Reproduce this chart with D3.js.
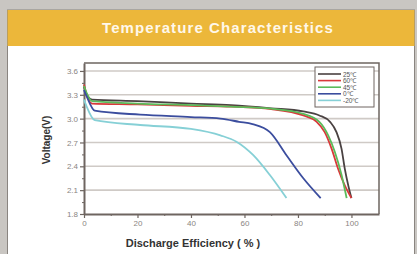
<!DOCTYPE html>
<html lang="en">
<head>
<meta charset="UTF-8">
<title>Temperature Characteristics</title>
<script src="https://d3js.org/d3.v7.min.js"></script>
<style>
  html, body { margin: 0; padding: 0; background: #c9c6c2; }
  svg { display: block; }
</style>
</head>
<body>
<svg id="chart" width="417" height="254"></svg>
<script>
// data: [discharge %, voltage]
const series = ["25℃", "60℃", "45℃", "0℃", "-20℃"];
const colors = ["#4a4242", "#d9393a", "#5bbb5a", "#3b4d9e", "#86d0d6"];
const curve25 = [[0,3.40],[1,3.30],[3,3.24],[20,3.22],[40,3.19],[55,3.17],[70,3.13],[82,3.09],[88,3.04],[92,2.96],[94.4,2.83],[96.3,2.62],[97.5,2.37],[98.8,2.16],[100,2.0]];
const curve60 = [[0,3.43],[1,3.30],[3,3.19],[20,3.18],[40,3.16],[55,3.15],[70,3.12],[82,3.04],[87,2.96],[90,2.83],[92.6,2.62],[95,2.37],[97.5,2.16],[100,2.0]];
const curve45 = [[0,3.41],[1,3.32],[3,3.22],[20,3.19],[40,3.17],[55,3.15],[70,3.125],[82,3.06],[88,2.96],[91.3,2.79],[93.8,2.58],[96.3,2.29],[98.2,2.0]];
const curve0 = [[0,3.36],[1,3.28],[4,3.10],[21,3.05],[40,3.02],[51,3.0],[58,2.96],[63,2.93],[69.5,2.83],[75.7,2.54],[82,2.25],[88.5,2.0]];
const curveM20 = [[0,3.24],[1,3.15],[4,2.98],[21,2.92],[40,2.87],[51,2.79],[57,2.71],[63.3,2.54],[69.5,2.29],[75.7,2.0]];
const curves = [curve25, curve60, curve45, curve0, curveM20];
const xTicks = [0, 20, 40, 60, 80, 100];
const yTicks = [1.8, 2.1, 2.4, 2.7, 3.0, 3.3, 3.6];

const svg = d3.select("#chart");

// card
svg.append("rect").attr("x", 7.5).attr("y", 10).attr("width", 407).attr("height", 260)
  .attr("fill", "#fff").attr("stroke", "#8a8580").attr("stroke-width", 1);
svg.append("rect").attr("x", 7.5).attr("y", 10).attr("width", 407).attr("height", 36)
  .attr("fill", "#ecb73a");
svg.append("text").attr("x", 218).attr("y", 33).attr("text-anchor", "middle")
  .attr("font-family", "Liberation Sans, Arial, sans-serif").attr("font-weight", "bold")
  .attr("font-size", 15).attr("letter-spacing", 1.1).attr("fill", "#fff8ea")
  .text("Temperature Characteristics");

const x = d3.scaleLinear().domain([0, 110.3]).range([84, 379]);
const y = d3.scaleLinear().domain([1.8, 3.7]).range([214, 63]);

// grid
svg.append("g").selectAll("line").data(yTicks.filter(d => d > 1.8)).join("line")
  .attr("x1", x(0)).attr("x2", x(110.3))
  .attr("y1", d => y(d)).attr("y2", d => y(d))
  .attr("stroke", "#cfcac6").attr("stroke-width", 1.6);

// minor ticks
svg.append("g").attr("transform", `translate(0,${y(1.8)})`)
  .call(d3.axisBottom(x).tickValues(d3.range(10, 110, 20)).tickSize(2).tickFormat(""))
  .call(g => g.select(".domain").remove())
  .call(g => g.selectAll("line").attr("stroke", "#6e6560"));
svg.append("g").attr("transform", `translate(${x(0)},0)`)
  .call(d3.axisLeft(y).tickValues(d3.range(1.95, 3.7, 0.3)).tickSize(2).tickFormat(""))
  .call(g => g.select(".domain").remove())
  .call(g => g.selectAll("line").attr("stroke", "#6e6560"));

// axes
const xAxis = svg.append("g").attr("transform", `translate(0,${y(1.8)})`)
  .call(d3.axisBottom(x).tickValues(xTicks).tickSize(4).tickSizeOuter(0).tickPadding(2));
const yAxis = svg.append("g").attr("transform", `translate(${x(0)},0)`)
  .call(d3.axisLeft(y).tickValues(yTicks).tickSize(4).tickSizeOuter(0).tickPadding(2)
    .tickFormat(d3.format(".1f")));
[xAxis, yAxis].forEach(g => {
  g.select(".domain").attr("stroke", "#6e6560").attr("stroke-width", 2);
  g.selectAll(".tick line").attr("stroke", "#6e6560").attr("stroke-width", 1.2);
  g.selectAll(".tick text").attr("fill", "#8a8582")
    .attr("font-family", "Liberation Sans, Arial, sans-serif").attr("font-size", 8);
});

// frame top & right
svg.append("path")
  .attr("d", `M${x(0)},${y(3.7)}H${x(110.3)}V${y(1.8)}`)
  .attr("fill", "none").attr("stroke", "#6e6560").attr("stroke-width", 1.5);

// lines
const line = d3.line().x(d => x(d[0])).y(d => y(d[1])).curve(d3.curveMonotoneX);
svg.append("g").selectAll("path").data(curves).join("path")
  .attr("d", line).attr("fill", "none")
  .attr("stroke", (d, i) => colors[i]).attr("stroke-width", 1.8);

// legend
const lg = svg.append("g");
lg.append("rect").attr("x", 315).attr("y", 67).attr("width", 59).attr("height", 40)
  .attr("fill", "#fff").attr("stroke", "#6e6560").attr("stroke-width", 1);
const rows = lg.selectAll("g").data(series).join("g")
  .attr("transform", (d, i) => `translate(0,${74 + i * 6.6})`);
rows.append("line").attr("x1", 318).attr("x2", 341)
  .attr("stroke", (d, i) => colors[i]).attr("stroke-width", 1.6);
rows.append("text").attr("x", 343).attr("y", 2.5).text(d => d)
  .attr("font-family", "Liberation Sans, Arial, sans-serif").attr("font-size", 6.5)
  .attr("fill", "#555");

// axis titles
svg.append("text").attr("transform", "translate(50,140) rotate(-90)")
  .attr("text-anchor", "middle").attr("font-family", "Liberation Sans, Arial, sans-serif")
  .attr("font-weight", "bold").attr("font-size", 10).attr("fill", "#333")
  .text("Voltage(V)");
svg.append("text").attr("x", 193).attr("y", 247).attr("text-anchor", "middle")
  .attr("font-family", "Liberation Sans, Arial, sans-serif")
  .attr("font-weight", "bold").attr("font-size", 11).attr("fill", "#333")
  .text("Discharge Efficiency ( % )");
</script>
</body>
</html>
